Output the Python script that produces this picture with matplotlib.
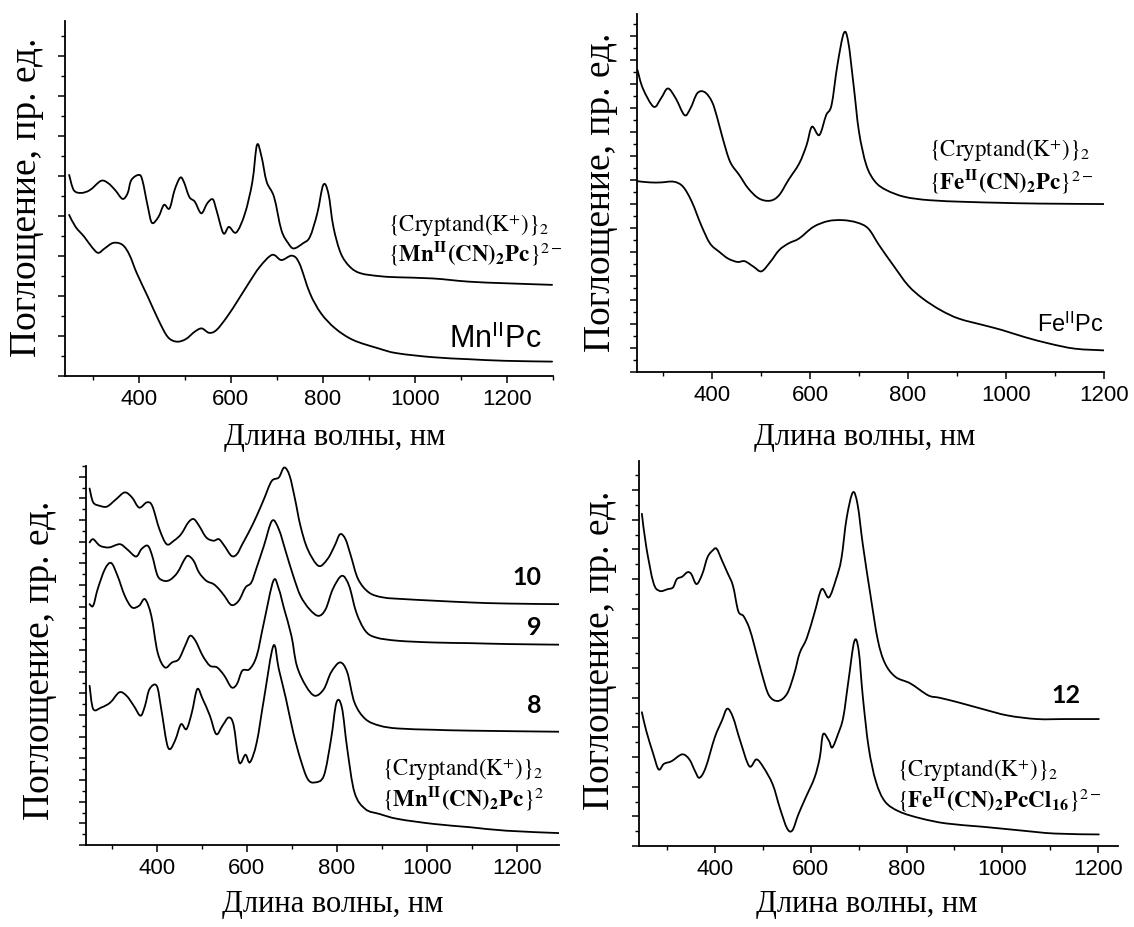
import matplotlib
matplotlib.use("Agg")
import numpy as np
import matplotlib.pyplot as plt
from matplotlib.path import Path
from matplotlib.patches import PathPatch
from matplotlib.ticker import MultipleLocator

plt.rcParams["font.family"] = ["Liberation Sans", "DejaVu Sans"]
plt.rcParams["mathtext.fontset"] = "stix"

# --- panel 1: Mn(II) ---
mn_cn_wl = [249, 259, 275, 294, 318, 333, 349, 365, 376, 384, 400, 408, 420, 429, 443, 455,
            467, 478, 490, 498, 510, 522, 536, 549, 561, 569, 584, 596, 612, 631, 647, 657,
            667, 678, 694, 710, 725, 737, 757, 772, 788, 801, 812, 823, 839, 859, 882, 921,
            961, 1039, 1117, 1196, 1298]
mn_cn_abs = [5.03, 4.65, 4.58, 4.65, 4.88, 4.83, 4.65, 4.43, 4.57, 4.90, 5.03, 4.90, 4.23,
             3.83, 3.98, 4.28, 4.19, 4.65, 4.96, 4.86, 4.48, 4.36, 4.07, 4.32, 4.42, 4.15,
             3.57, 3.73, 3.59, 4.07, 4.86, 5.78, 5.48, 4.86, 4.48, 3.65, 3.32, 3.19, 3.32,
             3.48, 4.07, 4.78, 4.57, 3.73, 3.07, 2.73, 2.57, 2.50, 2.47, 2.44, 2.36, 2.32, 2.28]
mnpc_wl = [249, 263, 282, 298, 312, 326, 345, 365, 380, 396, 420, 443, 463, 482, 502, 522,
           537, 553, 569, 592, 616, 639, 663, 690, 710, 733, 749, 772, 796, 827, 866, 921,
           961, 1039, 1117, 1196, 1298]
mnpc_abs = [4.03, 3.73, 3.48, 3.23, 3.08, 3.19, 3.33, 3.28, 3.03, 2.57, 1.98, 1.40, 0.98,
            0.86, 0.92, 1.11, 1.19, 1.08, 1.15, 1.48, 1.90, 2.32, 2.73, 3.03, 2.90, 3.01,
            2.82, 2.07, 1.57, 1.19, 0.90, 0.69, 0.57, 0.47, 0.42, 0.38, 0.36]

# --- panel 2: Fe(II) ---
fe_cn_wl = [248, 259, 281, 296, 310, 326, 344, 356, 370, 385, 400, 411, 422, 437, 456, 474,
            496, 519, 537, 556, 578, 593, 604, 619, 633, 644, 656, 669, 678, 689, 700, 715,
            733, 756, 793, 844, 919, 993, 1067, 1200]
fe_cn_abs = [12.57, 11.80, 11.04, 11.39, 11.80, 11.39, 10.69, 10.97, 11.60, 11.65, 11.25,
             10.56, 9.72, 8.75, 8.19, 7.64, 7.22, 7.13, 7.36, 7.99, 8.68, 9.44, 10.21, 9.86,
             10.69, 11.11, 12.78, 14.10, 13.75, 11.94, 10.00, 8.61, 7.92, 7.57, 7.29, 7.15,
             7.08, 7.04, 7.01, 6.99]
fepc_wl = [248, 274, 296, 322, 341, 359, 378, 396, 415, 433, 452, 467, 485, 501, 519, 537,
           556, 578, 607, 637, 667, 696, 719, 741, 770, 800, 830, 867, 904, 956, 993, 1037,
           1089, 1141, 1200]
fepc_abs = [7.94, 7.89, 7.89, 7.92, 7.71, 7.08, 6.11, 5.35, 5.00, 4.72, 4.58, 4.61, 4.38,
            4.19, 4.58, 5.07, 5.35, 5.56, 6.04, 6.28, 6.32, 6.22, 5.97, 5.28, 4.44, 3.61,
            3.06, 2.57, 2.22, 1.94, 1.74, 1.46, 1.18, 0.97, 0.90]

# --- panel 3: salts 10, 9, 8 and Mn reference ---
s10_wl = [251, 259, 274, 290, 310, 329, 345, 361, 378, 390, 406, 422, 438, 454, 470, 482,
          494, 510, 526, 538, 550, 566, 578, 590, 606, 622, 638, 655, 671, 683, 695, 707,
          719, 735, 759, 779, 795, 807, 819, 831, 847, 871, 903, 952, 1016, 1096, 1176, 1293]
s10_abs = [16.46, 15.82, 15.66, 15.63, 15.97, 16.28, 16.05, 15.58, 15.82, 15.66, 14.58,
           13.89, 14.05, 14.35, 14.89, 15.05, 14.74, 14.20, 14.05, 14.12, 13.82, 13.35,
           13.43, 13.89, 14.51, 15.20, 15.97, 16.80, 16.97, 17.43, 17.05, 15.97, 14.74,
           13.66, 12.89, 13.20, 13.82, 14.35, 14.12, 13.35, 12.28, 11.66, 11.43, 11.35,
           11.28, 11.20, 11.15, 11.12]
s9_wl = [251, 259, 274, 294, 318, 334, 354, 366, 380, 390, 402, 416, 430, 446, 462, 470,
         482, 494, 510, 526, 538, 550, 566, 582, 597, 610, 622, 638, 656, 671, 687, 703,
         719, 739, 759, 775, 791, 811, 827, 843, 863, 887, 936, 1016, 1096, 1176, 1293]
s9_abs = [13.97, 14.12, 13.82, 13.74, 13.89, 13.66, 13.32, 13.66, 13.82, 13.35, 12.43,
          12.20, 12.25, 12.58, 13.20, 13.35, 13.12, 12.58, 12.20, 12.05, 11.82, 11.51,
          11.08, 11.28, 11.89, 12.12, 12.82, 13.82, 14.97, 14.58, 13.51, 12.43, 11.51,
          10.89, 10.58, 10.89, 11.82, 12.43, 11.97, 10.74, 9.89, 9.58, 9.43, 9.35, 9.32,
          9.28, 9.25]
s8_wl = [251, 259, 269, 285, 299, 313, 329, 345, 361, 374, 388, 402, 418, 434, 449, 463,
         474, 486, 502, 518, 534, 550, 566, 578, 590, 606, 622, 638, 659, 671, 683, 699,
         711, 731, 751, 771, 787, 807, 823, 839, 863, 895, 936, 1016, 1096, 1293]
s8_abs = [11.12, 11.05, 11.82, 12.74, 13.02, 12.43, 11.51, 10.97, 11.05, 11.35, 10.58,
          8.89, 8.20, 8.43, 8.58, 9.20, 9.66, 9.43, 8.74, 8.28, 8.20, 7.82, 7.28, 7.43,
          8.05, 8.12, 8.74, 10.28, 12.20, 11.82, 10.89, 9.66, 8.28, 7.35, 6.89, 7.20, 7.97,
          8.43, 7.97, 6.58, 5.82, 5.51, 5.38, 5.32, 5.28, 5.23]
mn_ref_wl = [251, 259, 277, 297, 317, 333, 349, 364, 374, 384, 400, 410, 422, 430, 442, 454,
             466, 478, 490, 502, 518, 532, 546, 560, 571, 583, 597, 607, 622, 638, 659, 671,
             687, 703, 719, 735, 751, 771, 787, 799, 811, 823, 839, 863, 895, 936, 1016,
             1096, 1176, 1293]
mn_ref_abs = [7.35, 6.28, 6.35, 6.58, 7.05, 6.89, 6.43, 5.97, 6.43, 7.20, 7.35, 6.28, 4.74,
              4.43, 4.89, 5.58, 5.35, 6.12, 7.20, 6.74, 5.97, 5.12, 5.51, 5.89, 5.51, 3.82,
              4.17, 3.82, 4.74, 6.74, 9.20, 8.12, 6.74, 5.20, 3.97, 3.05, 2.89, 3.20, 4.89,
              6.58, 6.35, 4.43, 2.43, 1.66, 1.43, 1.20, 0.97, 0.82, 0.66, 0.55]

# --- panel 4: salt 12 and Fe(CN)2PcCl16 ---
s12_wl = [248, 257, 272, 285, 302, 313, 321, 332, 343, 351, 362, 374, 385, 396, 404, 415,
          426, 438, 449, 460, 472, 483, 498, 513, 532, 551, 566, 577, 592, 608, 623, 638,
          653, 664, 675, 688, 698, 709, 725, 740, 755, 777, 808, 845, 868, 906, 958, 1011,
          1072, 1132, 1201]
s12_abs = [11.20, 10.10, 8.88, 8.60, 8.66, 8.72, 9.00, 9.08, 9.23, 9.17, 8.83, 9.17, 9.74,
           9.97, 10.02, 9.63, 9.23, 8.77, 7.92, 7.75, 7.35, 6.73, 5.82, 5.08, 4.89, 5.14,
           5.82, 6.50, 7.01, 7.86, 8.66, 8.38, 9.00, 9.68, 11.05, 11.92, 11.50, 10.14, 8.43,
           6.95, 6.16, 5.70, 5.48, 5.08, 5.00, 4.85, 4.62, 4.40, 4.28, 4.28, 4.28]
fecl_wl = [248, 257, 272, 283, 294, 310, 332, 347, 359, 368, 381, 400, 415, 426, 438, 453,
           472, 487, 502, 521, 536, 551, 562, 574, 589, 608, 619, 626, 638, 645, 657, 668,
           679, 691, 700, 709, 721, 736, 755, 785, 830, 883, 958, 1034, 1109, 1201]
fecl_abs = [4.51, 3.89, 3.09, 2.58, 2.77, 2.86, 3.09, 2.92, 2.52, 2.30, 2.64, 3.66, 4.23,
            4.63, 4.34, 3.55, 2.69, 2.92, 2.64, 2.07, 1.27, 0.59, 0.53, 1.05, 1.61, 2.30,
            2.98, 3.77, 3.55, 3.32, 3.77, 4.34, 5.59, 6.90, 6.61, 5.00, 3.32, 2.18, 1.50,
            1.16, 0.93, 0.76, 0.65, 0.53, 0.42, 0.39]

W, H = 1134, 928
x_label = "Длина волны, нм"
y_label = "Поглощение, пр. ед."
cryptand = r"$\{\mathrm{Cryptand(K^{+})}\}_{2}$"


def box(left, right, top, bottom):
    return [left / W, 1 - bottom / H, (right - left) / W, (bottom - top) / H]


def style_axes(ax, xlim, ylim):
    ax.set_xlim(*xlim)
    ax.set_ylim(*ylim)
    for side in ("top", "right"):
        ax.spines[side].set_visible(False)
    for side in ("left", "bottom"):
        ax.spines[side].set_linewidth(1.3)
    ax.xaxis.set_major_locator(MultipleLocator(200))
    ax.xaxis.set_minor_locator(MultipleLocator(100))
    ax.yaxis.set_major_locator(MultipleLocator(1))
    ax.yaxis.set_minor_locator(MultipleLocator(0.5))
    ax.tick_params(which="major", direction="out", length=5, width=1.1, labelsize=16)
    ax.tick_params(which="minor", direction="out", length=3, width=1.0)
    ax.tick_params(axis="y", labelleft=False)
    ax.set_xticks(list(range(400, int(xlim[1]) + 1, 200)))


def spectrum(ax, wl, ab):
    # smooth curve through the read points (Catmull-Rom as cubic Bezier)
    pts = np.column_stack([wl, ab]).astype(float)
    n = len(pts)
    verts = [pts[0]]
    codes = [Path.MOVETO]
    for i in range(n - 1):
        p0 = pts[max(i - 1, 0)]
        p1 = pts[i]
        p2 = pts[i + 1]
        p3 = pts[min(i + 2, n - 1)]
        verts += [p1 + (p2 - p0) / 6, p2 - (p3 - p1) / 6, p2]
        codes += [Path.CURVE4] * 3
    ax.add_patch(PathPatch(Path(verts, codes), fill=False, edgecolor="black",
                           lw=1.3, capstyle="round", joinstyle="round"))


def fig_text(fig, x, y, s, **kw):
    fig.text(x / W, 1 - y / H, s, ha="center", va="center", **kw)


serif = ["Liberation Serif", "DejaVu Serif"]
xlab = dict(family=serif, fontsize=22)
ylab = dict(family=serif, fontsize=27, rotation=90)
note = dict(family=serif, fontsize=16.5, va="center", ha="left")
num = dict(family=["Lato", "DejaVu Sans"], fontsize=18, fontweight="bold",
           va="center", ha="right")

fig = plt.figure(figsize=(W / 100, H / 100), dpi=100)

# panel 1
ax1 = fig.add_axes(box(65, 553, 22, 377))
spectrum(ax1, mn_cn_wl, mn_cn_abs)
spectrum(ax1, mnpc_wl, mnpc_abs)
style_axes(ax1, (240, 1300), (0, 8.88))
ax1.text(942, 3.78, cryptand, **note)
ax1.text(942, 3.10, r"$\{\mathbf{Mn^{II}(CN)_{2}Pc}\}^{2-}$", **note)
ax1.text(1074, 0.93, r"Mn$^{\mathregular{II}}$Pc", fontsize=22, va="center", ha="left")
fig_text(fig, 335, 437, x_label, **xlab)
fig_text(fig, 27, 197, y_label, **ylab)

# panel 2
ax2 = fig.add_axes(box(637, 1104, 15, 373))
spectrum(ax2, fe_cn_wl, fe_cn_abs)
spectrum(ax2, fepc_wl, fepc_abs)
style_axes(ax2, (247, 1200), (0, 14.9))
ax2.text(843, 9.25, cryptand, **note)
ax2.text(843, 8.0, r"$\{\mathbf{Fe^{II}(CN)_{2}Pc}\}^{2-}$", **note)
ax2.text(1063, 2.0, r"Fe$^{\mathregular{II}}$Pc", fontsize=17, va="center", ha="left")
fig_text(fig, 865, 437, x_label, **xlab)
fig_text(fig, 601, 192, y_label, **ylab)

# panel 3
ax3 = fig.add_axes(box(86, 559, 467, 846))
for wl, ab in [(s10_wl, s10_abs), (s9_wl, s9_abs), (s8_wl, s8_abs), (mn_ref_wl, mn_ref_abs)]:
    spectrum(ax3, wl, ab)
style_axes(ax3, (243, 1293), (0, 17.5))
ax3.text(1255, 12.4, "10", **num)
ax3.text(1255, 10.1, "9", **num)
ax3.text(1255, 6.5, "8", **num)
ax3.text(899, 3.55, cryptand, **note)
ax3.text(899, 2.22, r"$\{\mathbf{Mn^{II}(CN)_{2}Pc}\}^{2}$", **note)
fig_text(fig, 333, 905, x_label, **xlab)
fig_text(fig, 40, 660, y_label, **ylab)

# panel 4
ax4 = fig.add_axes(box(639, 1118, 462, 847))
spectrum(ax4, s12_wl, s12_abs)
spectrum(ax4, fecl_wl, fecl_abs)
style_axes(ax4, (242, 1241), (0, 12.98))
ax4.text(1162, 5.12, "12", **num)
ax4.text(781, 2.58, cryptand, **note)
ax4.text(781, 1.62, r"$\{\mathbf{Fe^{II}(CN)_{2}PcCl_{16}}\}^{2-}$", **note)
fig_text(fig, 867, 905, x_label, **xlab)
fig_text(fig, 600, 650, y_label, **ylab)

fig.savefig("out.png", dpi=100)
